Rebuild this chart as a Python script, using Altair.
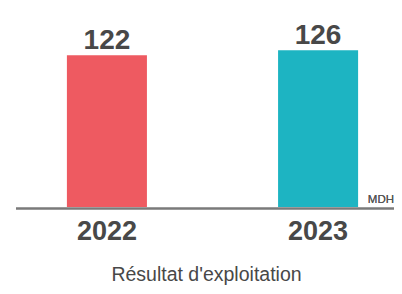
import altair as alt
import pandas as pd

years = ["2022", "2023"]
values = [122, 126]
colors = ["#EE5A61", "#1DB4C2"]
unit = "MDH"
title_text = "Résultat d'exploitation"

df = pd.DataFrame({"year": years, "value": values, "color": colors})

FONT = "Liberation Sans"
TXT = "#484848"
PADL = 23
W = 363

x = alt.X(
    "year:N",
    sort=years,
    scale=alt.Scale(paddingInner=0.621, paddingOuter=0.17),
    axis=alt.Axis(
        title=title_text,
        titleFont=FONT,
        titleFontSize=19.5,
        titleFontWeight="normal",
        titleColor=TXT,
        titlePadding=21,
        titleX=175,
        labelFont=FONT,
        labelFontSize=27,
        labelFontWeight="bold",
        labelColor=TXT,
        labelPadding=11,
        labelAngle=0,
        domain=False,
        ticks=False,
    ),
)
y = alt.Y("value:Q", scale=alt.Scale(domain=[0, 156]), axis=None)

base = alt.Chart(df).encode(x=x, y=y)

bars = base.mark_bar().encode(color=alt.Color("color:N", scale=None))
labels = base.mark_text(
    baseline="alphabetic", dy=-6, font=FONT, fontSize=28, fontWeight="bold", color=TXT
).encode(text=alt.Text("value:Q"))

baseline_rule = alt.Chart(df).mark_rule(color="#7a7a7a", strokeWidth=2, yOffset=1.5).encode(
    x=alt.value(8 - PADL), x2=alt.value(W), y=alt.datum(0)
)

unit_text = alt.Chart(df).mark_text(
    align="right", baseline="alphabetic", font=FONT, fontSize=11.5, color="#555555"
).encode(x=alt.value(W), y=alt.value(195), text=alt.value(unit))

chart = alt.layer(bars, labels, baseline_rule, unit_text).properties(
    width=W,
    height=199,
    background="white",
    autosize=alt.AutoSizeParams(type="none"),
    padding={"left": PADL, "top": 0, "right": 0, "bottom": 84},
).configure_view(stroke=None)

chart.save("out.html", embed_options={"renderer": "svg", "actions": False})
